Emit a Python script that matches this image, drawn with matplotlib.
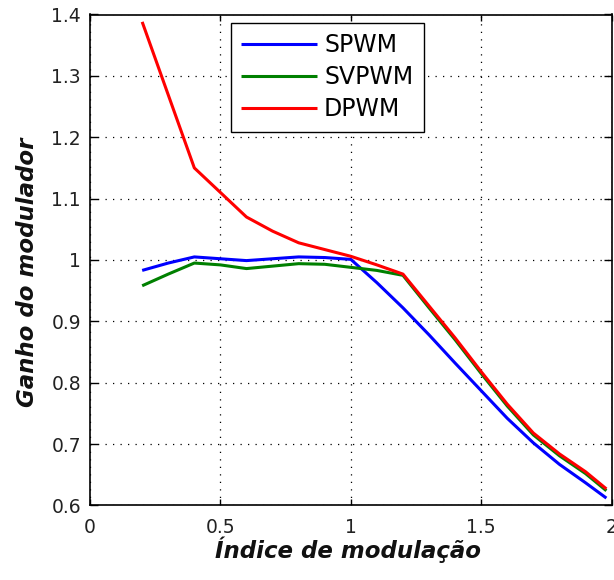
import numpy as np
import matplotlib
matplotlib.use("Agg")
import matplotlib.pyplot as plt

# === Dados ===
indice = [0.2, 0.3, 0.4, 0.5, 0.6, 0.7, 0.8, 0.9, 1.0, 1.1,
          1.2, 1.3, 1.4, 1.5, 1.6, 1.7, 1.8, 1.9, 1.98]

ganho_spwm = [0.983, 0.995, 1.005, 1.002, 0.999, 1.002, 1.005, 1.004, 1.001, 0.963,
              0.922, 0.878, 0.832, 0.787, 0.742, 0.702, 0.667, 0.637, 0.612]

ganho_svpwm = [0.958, 0.977, 0.995, 0.992, 0.986, 0.990, 0.994, 0.993, 0.988, 0.983,
               0.975, 0.922, 0.870, 0.815, 0.762, 0.715, 0.681, 0.652, 0.624]

ganho_dpwm = [1.388, 1.269, 1.150, 1.110, 1.070, 1.047, 1.028, 1.017, 1.006, 0.992,
              0.977, 0.925, 0.873, 0.818, 0.765, 0.718, 0.684, 0.655, 0.627]

rotulos = ['SPWM', 'SVPWM', 'DPWM']
cores = ['#0000ff', '#008000', '#ff0000']

plt.rcParams['font.family'] = ['DejaVu Sans']

fig = plt.figure(figsize=(6.14, 5.80), dpi=100)
ax = fig.add_axes([0.1466, 0.1285, 0.8495, 0.8465])

for y, lab, c in zip([ganho_spwm, ganho_svpwm, ganho_dpwm], rotulos, cores):
    ax.plot(indice, y, color=c, linewidth=2.2, label=lab, solid_capstyle='butt')

ax.set_xlim(0, 2)
ax.set_ylim(0.6, 1.4)
ax.set_xticks([0, 0.5, 1, 1.5, 2])
ax.set_xticklabels(['0', '0.5', '1', '1.5', '2'])
ax.set_yticks(np.arange(0.6, 1.41, 0.1))
ax.set_yticklabels(['0.6', '0.7', '0.8', '0.9', '1', '1.1', '1.2', '1.3', '1.4'])

ax.grid(True, color='black', linestyle=(0, (1, 5)), linewidth=0.9)
ax.tick_params(direction='in', top=True, right=True, labelsize=13.5,
               width=1, colors='black', labelcolor='#222222')
ax.tick_params(axis='y', length=6, pad=6.5)
ax.tick_params(axis='x', length=4, pad=9)
for s in ax.spines.values():
    s.set_linewidth(1.2)

ax.set_xlabel('Índice de modulação', fontsize=16.5, style='italic',
              fontweight='bold', color='#111111')
ax.set_ylabel('Ganho do modulador', fontsize=16.5, style='italic',
              fontweight='bold', color='#111111')
ax.xaxis.set_label_coords(0.495, -0.064)
ax.yaxis.set_label_coords(-0.098, 0.474)

leg = ax.legend(loc='upper left', bbox_to_anchor=(0.27, 0.983), fontsize=17,
                frameon=True, fancybox=False, framealpha=1, edgecolor='black',
                handlelength=3.2, handletextpad=0.3, labelspacing=0.33,
                borderpad=0.45, borderaxespad=0)
leg.get_frame().set_linewidth(1)

fig.savefig('out.png', dpi=100)
